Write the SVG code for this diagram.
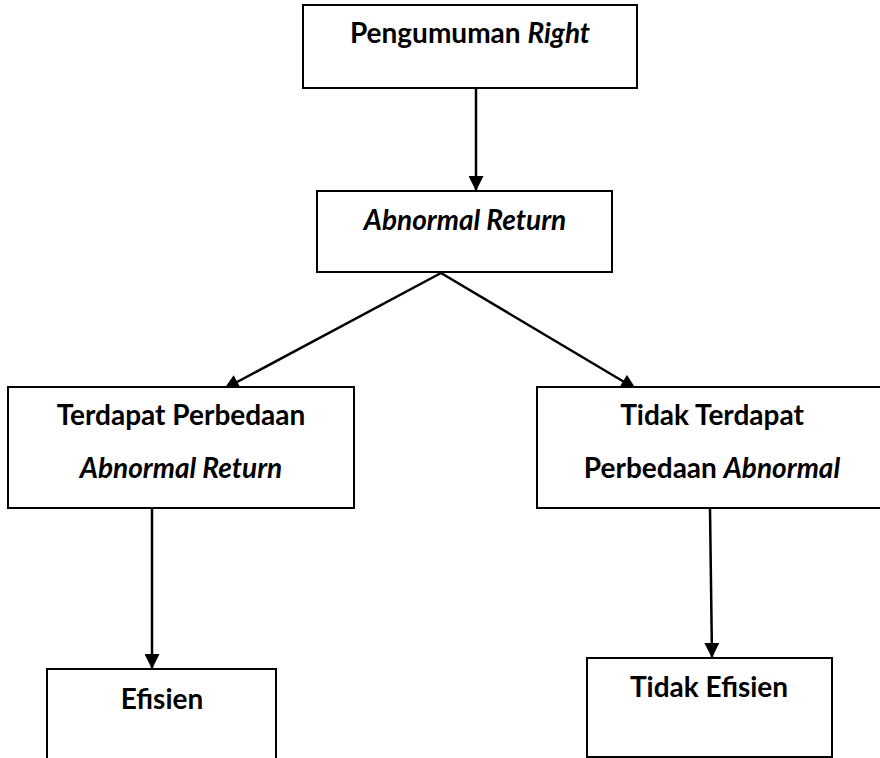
<svg xmlns="http://www.w3.org/2000/svg" width="880" height="758" viewBox="0 0 880 758">
<style>
.box{fill:#fff;stroke:#000;stroke-width:2}
.t{font-family:Lato,"Liberation Sans",sans-serif;font-weight:bold;font-size:28px;fill:#000;text-anchor:middle}
.i{font-style:italic}
.c{stroke:#000;stroke-width:2.5;fill:none;marker-end:url(#ah)}
</style>
<defs>
<marker id="ah" viewBox="0 0 10 10" refX="10" refY="5" markerWidth="16" markerHeight="15" markerUnits="userSpaceOnUse" orient="auto">
<path d="M0,0 L10,5 L0,10 Z" fill="#000"/>
</marker>
</defs>
<rect width="880" height="758" fill="#fff"/>
<g id="connectors">
<line class="c" x1="476" y1="89" x2="476" y2="191"/>
<line class="c" x1="441" y1="273" x2="224" y2="389"/>
<line class="c" x1="441" y1="273" x2="636" y2="389"/>
<line class="c" x1="152" y1="509" x2="152" y2="669"/>
<line class="c" x1="710" y1="509" x2="712" y2="658"/>
</g>
<g id="n1">
<rect class="box" x="303" y="5" width="334" height="83"/>
<text class="t" x="470" y="43">Pengumuman <tspan class="i">Right</tspan></text>
</g>
<g id="n2">
<rect class="box" x="317" y="191" width="295" height="81"/>
<text class="t i" x="465" y="230">Abnormal Return</text>
</g>
<g id="n3">
<rect class="box" x="8" y="387" width="346" height="121"/>
<text class="t" x="181" y="425">Terdapat Perbedaan</text>
<text class="t i" x="181" y="478">Abnormal Return</text>
</g>
<g id="n4">
<rect class="box" x="537" y="387" width="350" height="121"/>
<text class="t" x="712" y="425">Tidak Terdapat</text>
<text class="t" x="712" y="478">Perbedaan <tspan class="i">Abnormal</tspan></text>
</g>
<g id="n5">
<rect class="box" x="47" y="669" width="229" height="95"/>
<text class="t" x="162" y="709">Efisien</text>
</g>
<g id="n6">
<rect class="box" x="587" y="658" width="245" height="99"/>
<text class="t" x="709" y="697">Tidak Efisien</text>
</g>
</svg>
